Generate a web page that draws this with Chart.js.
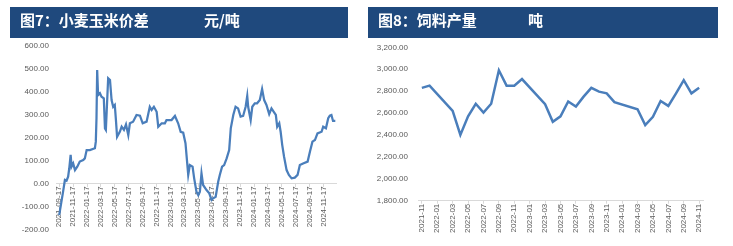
<!DOCTYPE html>
<html><head><meta charset="utf-8">
<script src="https://cdn.jsdelivr.net/npm/chart.js@4.4.0/dist/chart.umd.min.js"></script>
<style>
html,body{margin:0;padding:0;background:#fff;}
body{width:733px;height:246px;position:relative;overflow:hidden;}
.band{position:absolute;top:7px;height:31px;background:#1f497d;}
.t{position:absolute;top:11px;color:#fff;font-weight:700;font-size:15px;line-height:17px;white-space:nowrap;font-family:"Noto Sans CJK SC",sans-serif;z-index:2;}
canvas{position:absolute;top:0;z-index:1;}
</style></head><body>
<div class="band" style="left:10px;width:338px"></div>
<div class="band" style="left:368px;width:350px"></div>
<div class="t" style="left:20px">图7：小麦玉米价差</div>
<div class="t" style="left:204px">元/吨</div>
<div class="t" style="left:378px">图8：饲料产量</div>
<div class="t" style="left:528px">吨</div>
<canvas id="c1" width="350" height="246" style="left:0"></canvas>
<canvas id="c2" width="367" height="246" style="left:366px"></canvas>
<script>
// ---- Chart 7: wheat-corn price spread (yuan/ton) ----
const diffDates = ['2021-09-17','2021-10-04','2021-10-12','2021-10-19','2021-10-26','2021-10-31','2021-11-06','2021-11-10','2021-11-17','2021-11-25',
'2021-12-05','2021-12-16','2021-12-31','2022-01-07','2022-01-15','2022-01-29','2022-02-20','2022-02-24','2022-02-27','2022-03-02',
'2022-03-06','2022-03-14','2022-03-21','2022-03-31','2022-04-05','2022-04-09','2022-04-19','2022-04-27','2022-05-04','2022-05-11',
'2022-05-18','2022-05-23','2022-05-28','2022-06-09','2022-06-17','2022-06-27','2022-07-06','2022-07-16','2022-07-23','2022-08-06',
'2022-08-21','2022-09-05','2022-09-17','2022-10-04','2022-10-18','2022-10-26','2022-11-05','2022-11-17','2022-11-24','2022-12-09',
'2022-12-23','2022-12-30','2023-01-21','2023-02-05','2023-02-19','2023-03-02','2023-03-13','2023-03-23','2023-04-04','2023-04-11',
'2023-04-23','2023-04-30','2023-05-10','2023-05-18','2023-05-25','2023-06-01','2023-06-08','2023-06-23','2023-07-05','2023-07-15',
'2023-07-22','2023-08-02','2023-08-13','2023-08-20','2023-08-30','2023-09-08','2023-09-19','2023-09-30','2023-10-07','2023-10-18',
'2023-10-28','2023-11-08','2023-11-19','2023-11-30','2023-12-11','2023-12-18','2023-12-22','2024-01-02','2024-01-09','2024-01-20',
'2024-01-30','2024-02-11','2024-02-21','2024-03-01','2024-03-11','2024-03-23','2024-04-02','2024-04-12','2024-04-21','2024-04-27',
'2024-05-06','2024-05-12','2024-05-19','2024-05-27','2024-06-07','2024-06-17','2024-06-29','2024-07-13','2024-07-25','2024-08-04',
'2024-08-18','2024-09-07','2024-09-17','2024-09-28','2024-10-09','2024-10-20','2024-11-07','2024-11-14','2024-11-26','2024-12-06',
'2024-12-13','2024-12-20','2024-12-27','2025-01-06'];
const diffValues = [-138,-36,15,12,29,66,124,73,87,58,
73,95,102,109,145,145,153,182,284,494,
385,393,378,371,240,233,458,450,363,334,
342,276,203,225,247,233,257,211,262,269,
298,295,262,269,334,320,334,312,247,262,
262,276,276,294,262,225,221,175,37,80,
73,22,-36,-51,-36,44,-7,-29,-43,-72,
-65,-58,7,37,73,80,109,145,240,298,
334,327,291,294,334,381,334,276,334,349,
349,363,411,363,342,302,327,312,298,247,
262,225,167,116,58,37,22,25,37,80,
87,95,138,182,189,218,225,247,240,284,
295,298,272,272];
const diffTicks = ['2021-09-17','2021-11-17','2022-01-17','2022-03-17','2022-05-17','2022-07-17','2022-09-17','2022-11-17','2023-01-17','2023-03-17',
'2023-05-17','2023-07-17','2023-09-17','2023-11-17','2024-01-17','2024-03-17','2024-05-17','2024-07-17','2024-09-17','2024-11-17'];

// ---- Chart 8: feed output (tons) ----
const feedMonths = ['2021-11','2021-12','2022-01','2022-02','2022-03','2022-04','2022-05','2022-06','2022-07','2022-08','2022-09','2022-10','2022-11','2022-12',
'2023-01','2023-02','2023-03','2023-04','2023-05','2023-06','2023-07','2023-08','2023-09','2023-10','2023-11','2023-12',
'2024-01','2024-02','2024-03','2024-04','2024-05','2024-06','2024-07','2024-08','2024-09','2024-10','2024-11'];
const feedValues = [2830,2850,null,null,2620,2400,2570,2685,2605,2685,2990,2850,2850,2910,
null,null,2680,2520,2570,2705,2660,2750,2830,2795,2780,2700,
null,null,2635,2490,2565,2710,2665,2780,2900,2780,2830];

Chart.defaults.font.family = "'Liberation Sans', Arial, sans-serif";
Chart.defaults.font.size = 8;
Chart.defaults.color = '#595959';

const LINE = '#4a7ebb';
const AXIS = '#d9d9d9';
const t0 = Date.parse(diffDates[0]);
const dayOf = s => (Date.parse(s) - t0) / 86400000;
const diffPoints = diffDates.map((d, i) => ({x: dayOf(d), y: diffValues[i]}));

new Chart(document.getElementById('c1'), {
  type: 'line',
  data: {datasets: [{data: diffPoints, borderColor: LINE, borderWidth: 2.25, pointRadius: 0, tension: 0, fill: false}]},
  options: {
    responsive: false, animation: false, events: [],
    layout: {padding: {left: 0, right: 14, top: 45.7, bottom: 16.7}},
    plugins: {legend: {display: false}, tooltip: {enabled: false}},
    scales: {
      x: {
        type: 'linear', position: {y: 0}, min: -14, max: 1210,
        afterBuildTicks: s => { s.ticks = diffTicks.map(d => ({value: dayOf(d)})); },
        grid: {drawOnChartArea: false, drawTicks: true, tickLength: 3, color: AXIS},
        border: {display: true, color: AXIS, width: 1},
        ticks: {autoSkip: false, minRotation: 90, maxRotation: 90, padding: 0, callback: (v, i) => diffTicks[i]}
      },
      y: {
        type: 'linear', min: -200, max: 600,
        afterFit: s => { s.width = 56; },
        grid: {display: false, drawTicks: false}, border: {display: false},
        ticks: {stepSize: 100, padding: 7, callback: v => v.toFixed(2)}
      }
    }
  }
});

new Chart(document.getElementById('c2'), {
  type: 'line',
  data: {labels: feedMonths, datasets: [{data: feedValues, borderColor: LINE, borderWidth: 2.5, pointRadius: 0, tension: 0, spanGaps: true, fill: false}]},
  options: {
    responsive: false, animation: false, events: [],
    layout: {padding: {left: 0, right: 30, top: 47.3, bottom: 0}},
    plugins: {legend: {display: false}, tooltip: {enabled: false}},
    scales: {
      x: {
        type: 'category', offset: true,
        afterFit: s => { s.height = 45.3; },
        afterBuildTicks: s => { s.ticks = s.ticks.filter((t, i) => i % 2 === 0); },
        grid: {drawOnChartArea: false, drawTicks: true, tickLength: 3, color: AXIS, offset: false},
        border: {display: true, color: AXIS, width: 1},
        ticks: {autoSkip: false, minRotation: 90, maxRotation: 90, padding: 0}
      },
      y: {
        min: 1800, max: 3200,
        afterFit: s => { s.width = 52; },
        grid: {display: false, drawTicks: false}, border: {display: false},
        ticks: {stepSize: 200, padding: 10, callback: v => v.toLocaleString('en-US', {minimumFractionDigits: 2, maximumFractionDigits: 2})}
      }
    }
  }
});
</script>
</body></html>
